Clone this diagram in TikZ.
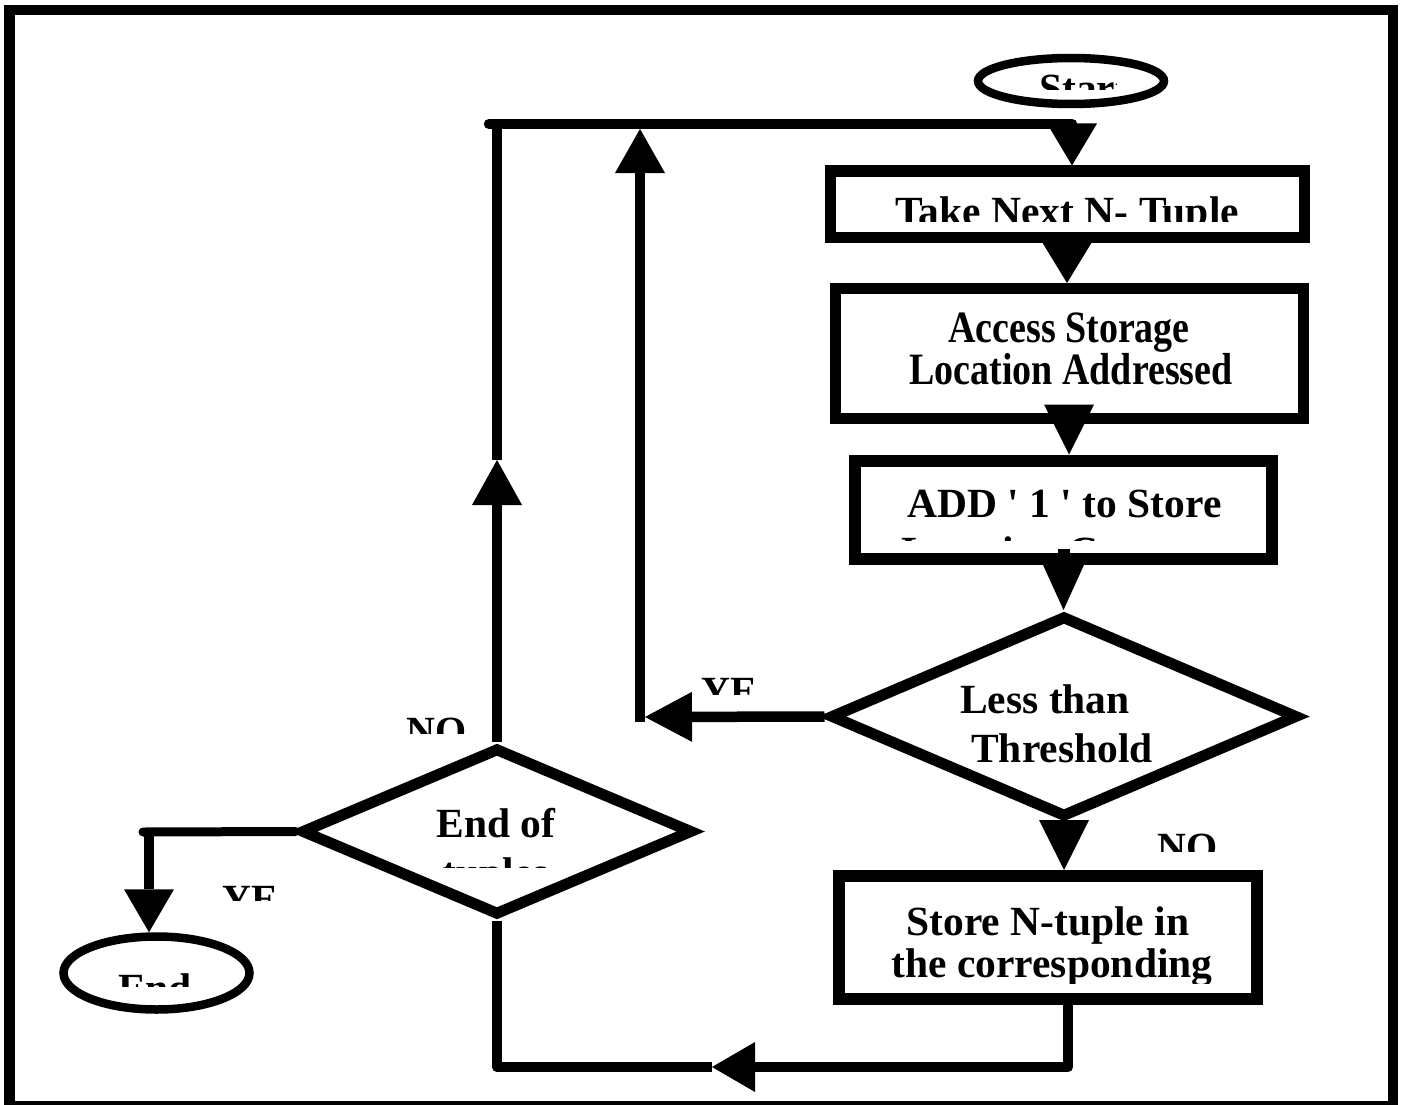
\documentclass[tikz,border=0pt]{standalone}
\usepackage{graphicx}
\usepackage{fontspec}
\setmainfont{Liberation Serif}
\usetikzlibrary{arrows.meta,shapes.geometric,calc}
\begin{document}
\begin{tikzpicture}[x=1pt,y=-1pt,
  box/.style={draw,line width=11pt,rectangle,inner sep=0pt},
  dia/.style={draw,line width=11pt,diamond,inner sep=0pt},
  term/.style={draw,line width=8.5pt,ellipse,inner sep=0pt},
  conn/.style={line width=10.5pt},
  tip/.style={-{Triangle[length=#1,width=50pt,line width=0pt]}},
  txt/.style={inner sep=0pt,anchor=base,font=\bfseries\fontsize{41.5}{48}\selectfont},
  stxt/.style={inner sep=0pt,anchor=base,font=\bfseries\fontsize{38}{42}\selectfont},
  lbl/.style={inner sep=0pt,anchor=base west,font=\bfseries\fontsize{40}{46}\selectfont}]
\useasboundingbox (0,0) rectangle (1403,1105);
\draw[line width=10.5pt] (9.5,10) rectangle (1393,1106);

% shapes
\node[term,minimum width=186pt,minimum height=46pt] (start) at (1071,81) {};
\node[box,minimum width=474pt,minimum height=66pt] (b1) at (1067,204) {};
\node[box,minimum width=468pt,minimum height=130pt] (b2) at (1069,353.5) {};
\node[box,line width=12pt,minimum width=417pt,minimum height=98pt] (b3) at (1063.5,509.5) {};
\node[box,line width=12pt,minimum width=418pt,minimum height=123pt] (b4) at (1048,937.5) {};
\node[dia,minimum width=468pt,minimum height=202pt] (d1) at (1064,716.5) {};
\node[dia,minimum width=392pt,minimum height=168pt] (d2) at (497,831.5) {};
\node[term,minimum width=186pt,minimum height=73pt] (end) at (156.5,973) {};

% texts
\begin{scope}
  \clip (990,60) rectangle (1116,90);
  \node[txt,anchor=base west] (tstart) at (1039,102.5) {Start};
\end{scope}
\begin{scope}
  \clip (840,180) rectangle (1295,221);
  \node[txt] (t1) at (1067,225.5) {Take Next N- Tuple};
\end{scope}
\node[stxt] (t2a) at (1069,342) {\scalebox{1}[1.18]{Access Storage}};
\node[stxt] (t2b) at (1071,384) {\scalebox{1}[1.18]{Location Addressed}};
\node[txt] (t3a) at (1064.5,517) {ADD \textquotesingle{} 1 \textquotesingle{} to Store};
\begin{scope}
  \clip (865,520) rectangle (1262,540);
  \node[txt] (t3b) at (1056.5,565) {Location Content};
\end{scope}
\node[txt] (t4a) at (1045,713) {Less than};
\node[txt] (t4b) at (1062,762) {Threshold};
\node[txt] (t5a) at (1048,935) {Store N-tuple in};
\begin{scope}
  \clip (850,940) rectangle (1250,983);
  \node[txt] (t5b) at (1052,977) {the corresponding};
\end{scope}
\node[txt] (t6a) at (496,837) {End of};
\begin{scope}
  \clip (400,845) rectangle (600,867);
  \node[txt] (t6b) at (496,886) {tuples};
\end{scope}
\begin{scope}
  \clip (90,950) rectangle (230,986);
  \node[txt,anchor=base west] (tend) at (118,1002.5) {End};
\end{scope}
% labels
\begin{scope}
  \clip (690,660) rectangle (757,694);
  \node[lbl] (ly1) at (701,704.5) {YES};
\end{scope}
\begin{scope}
  \clip (210,870) rectangle (278,900);
  \node[lbl] (ly2) at (222,912.5) {YES};
\end{scope}
\begin{scope}
  \clip (395,700) rectangle (480,733);
  \node[lbl] (ln1) at (406,744.5) {NO};
\end{scope}
\begin{scope}
  \clip (1145,815) rectangle (1240,851);
  \node[lbl] (ln2) at (1157,860.5) {NO};
\end{scope}

% connectors
\coordinate (tl) at (489,124);
\coordinate (tr) at (1072,124);
\coordinate (nu) at (497,460);
\draw[conn,tip=45pt] (d2.north) -- (nu);
\draw[conn] (nu) -- (nu |- tl);
\draw[conn,line cap=round] (tl) -- (tr);
\draw[conn,tip=42pt] (tr) -- (tr |- b1.north);

\coordinate (yl) at (640,717);
\draw[conn,tip=47pt] (d1.west) -- ($(yl)+(5,0)$);
\draw[conn,tip=44pt] ($(yl)+(0,5)$) -- ($(yl |- tl)+(0,5)$);

\draw[conn,tip=41pt] (b1.south) -- (b1.south |- b2.north);
\draw[conn,tip=50pt] ($(b2.south)+(0,-19)$) -- (b2.south |- b3.north);
\draw[conn,line width=12pt,tip=55pt] ($(b3.south)+(0,-16)$) -- (b3.south |- d1.north);
\draw[conn,tip=50pt] (d1.south) -- (d1.south |- b4.north);

\coordinate (br) at (1068,1067);
\coordinate (ba) at (712,1067);
\draw[conn,line join=round,tip=43pt] (b4.south -| br) -- (br) -- (ba);
\draw[conn,line join=round] (ba) -- (ba -| d2.south) -- (d2.south);

\coordinate (el) at (149,832);
\draw[conn,line width=9pt,line cap=round] (d2.west) -- ($(el)+(-6,0)$);
\draw[conn,line width=10pt,tip=43pt] (el) -- (el |- end.north);
\end{tikzpicture}
\end{document}
